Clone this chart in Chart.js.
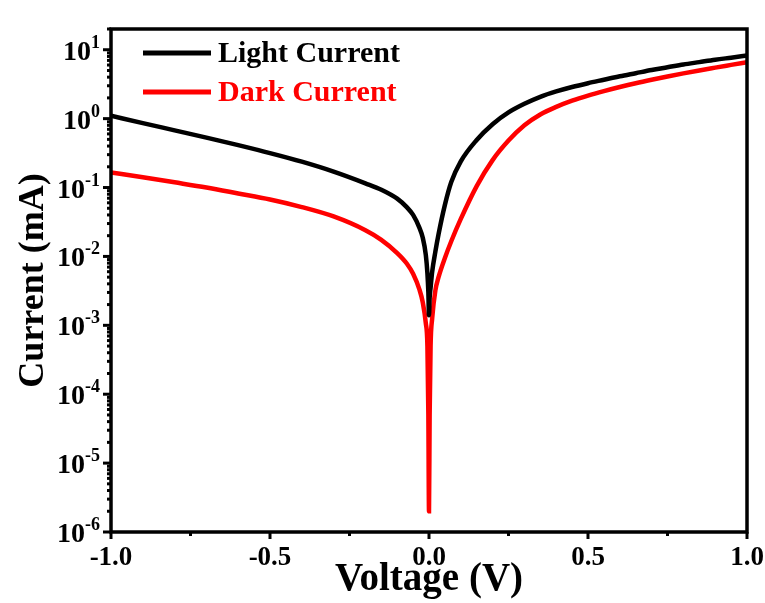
<!DOCTYPE html>
<html>
<head>
<meta charset="utf-8">
<script src="https://cdn.jsdelivr.net/npm/chart.js@4/dist/chart.umd.min.js"></script>
<style>
  html, body { margin: 0; padding: 0; background: #fff; }
  #wrap { width: 765px; height: 603px; }
</style>
</head>
<body>
<div id="wrap"><canvas id="myChart" width="765" height="603"></canvas></div>
<script>
// voltage sweep (V)
var voltage = [-1, -0.9, -0.8, -0.7, -0.6, -0.5, -0.4, -0.3, -0.2, -0.15, -0.1, -0.07, -0.05, -0.03, -0.02, -0.01, -0.005, -0.002, 0,
               0.002, 0.005, 0.01, 0.02, 0.03, 0.05, 0.07, 0.1, 0.15, 0.2, 0.25, 0.3, 0.35, 0.4, 0.45, 0.5,
               0.55, 0.6, 0.65, 0.7, 0.75, 0.8, 0.85, 0.9, 0.95, 1.0];
// current (mA)
var lightCurrent = [1.1, 0.86, 0.676, 0.531, 0.412, 0.316, 0.237, 0.17, 0.115, 0.093, 0.069, 0.052, 0.04, 0.026, 0.019, 0.0105, 0.0057, 0.003, 0.0014,
                    0.0025, 0.0035, 0.006, 0.0117, 0.021, 0.056, 0.12, 0.24, 0.49, 0.83, 1.23, 1.64, 2.07, 2.48, 2.88, 3.27,
                    3.67, 4.12, 4.57, 5.07, 5.56, 6.1, 6.61, 7.16, 7.67, 8.22];
var darkCurrent = [0.166, 0.141, 0.119, 0.1, 0.082, 0.067, 0.052, 0.038, 0.024, 0.0174, 0.0112, 0.0079, 0.0056, 0.0033, 0.0022, 0.00107, 0.0005, 0.00005, 0.000002,
                   0.00005, 0.0005, 0.00126, 0.0032, 0.005, 0.0095, 0.0166, 0.035, 0.105, 0.25, 0.48, 0.8, 1.15, 1.48, 1.82, 2.16,
                   2.51, 2.88, 3.27, 3.67, 4.09, 4.54, 5.01, 5.5, 6.03, 6.61];
var seriesNames = ['Light Current', 'Dark Current'];
var seriesColors = ['#000000', '#ff0000'];
var xTicks = [-1.0, -0.5, 0.0, 0.5, 1.0];
var xMinorTicks = [-0.75, -0.25, 0.25, 0.75];
var yExponents = [-6, -5, -4, -3, -2, -1, 0, 1];

var FONT = '"Liberation Serif", "Times New Roman", serif';

function pts(ys) {
  return voltage.map(function (v, i) { return {x: v, y: ys[i]}; });
}

var decor = {
  id: 'decor',
  afterDraw: function (chart) {
    var ctx = chart.ctx;
    var a = chart.chartArea;
    var xs = chart.scales.x, ys = chart.scales.y;
    ctx.save();
    ctx.strokeStyle = '#000';
    ctx.fillStyle = '#000';

    // frame
    ctx.lineWidth = 3.5;
    ctx.strokeRect(a.left, a.top, a.right - a.left, a.bottom - a.top);

    // x ticks
    ctx.lineWidth = 3;
    xTicks.forEach(function (t) {
      var px = xs.getPixelForValue(t);
      ctx.beginPath(); ctx.moveTo(px, a.bottom); ctx.lineTo(px, a.bottom + 7); ctx.stroke();
    });
    xMinorTicks.forEach(function (t) {
      var px = xs.getPixelForValue(t);
      ctx.beginPath(); ctx.moveTo(px, a.bottom); ctx.lineTo(px, a.bottom + 4); ctx.stroke();
    });

    // y ticks + labels (10 with superscript exponent)
    yExponents.forEach(function (e) {
      var py = ys.getPixelForValue(Math.pow(10, e));
      ctx.beginPath(); ctx.moveTo(a.left, py); ctx.lineTo(a.left - 8, py); ctx.stroke();
      for (var k = 2; k <= 9; k++) {
        var v = k * Math.pow(10, e);
        if (v > ys.max) break;
        var pm = ys.getPixelForValue(v);
        ctx.beginPath(); ctx.moveTo(a.left, pm); ctx.lineTo(a.left - 4, pm); ctx.stroke();
      }
      var sup = String(e);
      ctx.font = 'bold 18px ' + FONT;
      var supW = ctx.measureText(sup).width;
      var right = a.left - 11;
      ctx.textAlign = 'right';
      ctx.textBaseline = 'alphabetic';
      ctx.fillText(sup, right, py - 2);
      ctx.font = 'bold 28px ' + FONT;
      ctx.fillText('10', right - supW, py + 10);
    });

    // legend
    chart.data.datasets.forEach(function (ds, i) {
      var y = 53 + i * 39;
      ctx.strokeStyle = ds.borderColor;
      ctx.lineWidth = 5;
      ctx.beginPath(); ctx.moveTo(143, y); ctx.lineTo(211, y); ctx.stroke();
      ctx.fillStyle = ds.borderColor;
      ctx.font = 'bold 30px ' + FONT;
      ctx.textAlign = 'left';
      ctx.textBaseline = 'middle';
      ctx.fillText(ds.label, 218, y + 1);
    });
    ctx.restore();
  }
};

var ctx = document.getElementById('myChart').getContext('2d');
var chart = new Chart(ctx, {
  type: 'line',
  data: {
    datasets: [{
      label: seriesNames[0],
      data: pts(lightCurrent),
      borderColor: seriesColors[0],
      borderWidth: 4.5,
      pointRadius: 0,
      cubicInterpolationMode: 'monotone'
    }, {
      label: seriesNames[1],
      data: pts(darkCurrent),
      borderColor: seriesColors[1],
      borderWidth: 4.5,
      pointRadius: 0,
      cubicInterpolationMode: 'monotone'
    }]
  },
  options: {
    responsive: false,
    animation: false,
    layout: { padding: { top: 29, right: 18, left: 0, bottom: 0 } },
    plugins: { legend: { display: false }, tooltip: { enabled: false } },
    scales: {
      x: {
        type: 'linear',
        min: -1, max: 1,
        grid: { display: false, drawTicks: false },
        border: { display: false },
        afterBuildTicks: function (s) { s.ticks = xTicks.map(function (v) { return {value: v}; }); },
        afterFit: function (s) { s.height = 71; s.paddingRight = 0; s.paddingLeft = 0; },
        ticks: {
          color: '#000',
          padding: 10,
          maxRotation: 0,
          autoSkip: false,
          font: { family: FONT, size: 27, weight: 'bold' },
          callback: function (v) { return Number(v).toFixed(1); }
        },
        title: {
          display: true,
          text: 'Voltage (V)',
          color: '#000',
          padding: { top: 0, bottom: 0 },
          font: { family: FONT, size: 39, weight: 'bold' }
        }
      },
      y: {
        type: 'logarithmic',
        min: 1e-6, max: 20,
        grid: { display: false, drawTicks: false },
        border: { display: false },
        afterFit: function (s) { s.width = 111; },
        ticks: { display: false },
        title: {
          display: true,
          text: 'Current (mA)',
          color: '#000',
          padding: { top: 12, bottom: 0 },
          font: { family: FONT, size: 36, weight: 'bold' }
        }
      }
    }
  },
  plugins: [decor]
});
</script>
</body>
</html>
